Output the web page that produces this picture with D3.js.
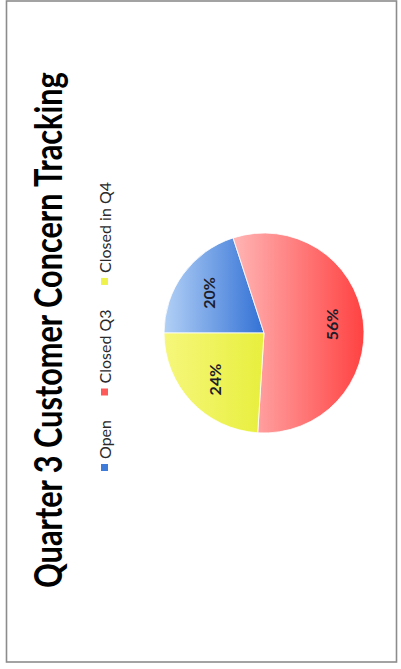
<!DOCTYPE html>
<html>
<head>
<meta charset="utf-8">
<script src="https://cdn.jsdelivr.net/npm/d3@7"></script>
<style>
  html, body { margin: 0; padding: 0; background: #ffffff; }
  svg { display: block; }
</style>
</head>
<body>
<script>
// ---- data ----
const categories = ["Open", "Closed Q3", "Closed in Q4"];
const values = [20, 56, 24];
const labels = ["20%", "56%", "24%"];
const title = "Quarter 3 Customer Concern Tracking";

const W = 401, H = 669;
const svg = d3.select("body").append("svg").attr("width", W).attr("height", H);
svg.append("rect").attr("width", W).attr("height", H).attr("fill", "#ffffff");

// page frame
svg.append("rect").attr("x", 6.5).attr("y", 1).attr("width", 390).attr("height", 661)
  .attr("fill", "none").attr("stroke", "#8c8c8c").attr("stroke-width", 1.6);

const defs = svg.append("defs");
const cx = 264, cy = 333, r = 100;
const gradStops = [
  { id: "gOpen",   x1: 163, x2: 262, c0: "#b3d1f6", c1: "#3573d6" },
  { id: "gClosed", x1: 225, x2: 366, c0: "#ffbcbc", c1: "#ff4040" },
  { id: "gQ4",     x1: 163, x2: 262, c0: "#f6f77c", c1: "#e8ef3e" }
];
gradStops.forEach(g => {
  const lg = defs.append("linearGradient").attr("id", g.id)
    .attr("gradientUnits", "userSpaceOnUse")
    .attr("x1", g.x1 - cx).attr("x2", g.x2 - cx).attr("y1", 0).attr("y2", 0);
  lg.append("stop").attr("offset", 0).attr("stop-color", g.c0);
  lg.append("stop").attr("offset", 1).attr("stop-color", g.c1);
});
const fillScale = d3.scaleOrdinal().domain(categories).range(gradStops.map(g => `url(#${g.id})`));
const swatch = d3.scaleOrdinal().domain(categories).range(["#3f7bd8", "#ff5a5a", "#eef24a"]);

// ---- pie (whole chart is rotated 90° counter-clockwise) ----
const pie = d3.pie().sort(null).value(d => d.v)
  .startAngle(-Math.PI / 2).endAngle(3 * Math.PI / 2);
const data = categories.map((c, i) => ({ c, v: values[i], label: labels[i] }));
const arcs = pie(data);
const arc = d3.arc().innerRadius(0).outerRadius(r);
const labelArc = d3.arc().innerRadius(r * 0.68).outerRadius(r * 0.68);

const g = svg.append("g").attr("transform", `translate(${cx},${cy})`);
g.selectAll("path").data(arcs).enter().append("path")
  .attr("d", arc)
  .attr("fill", d => fillScale(d.data.c))
  .attr("stroke", "#ffffff").attr("stroke-width", 0.8);

g.selectAll("text.pct").data(arcs).enter().append("text")
  .attr("class", "pct")
  .attr("transform", d => {
    const [x, y] = labelArc.centroid(d);
    return `translate(${x},${y}) rotate(-90)`;
  })
  .attr("text-anchor", "middle")
  .attr("dominant-baseline", "central")
  .attr("font-family", "Lato, 'Open Sans', sans-serif")
  .attr("font-weight", "bold")
  .attr("font-size", 16)
  .attr("fill", "#1d1d2b")
  .text(d => d.data.label);

// ---- title (condensed by scaling to the scanned length) ----
const titleLen = 516;
const tt = svg.append("text")
  .attr("font-family", "Lato, 'Open Sans', sans-serif")
  .attr("font-weight", "bold")
  .attr("font-size", 38)
  .attr("fill", "#000000")
  .text(title);
const natural = tt.node().getComputedTextLength();
tt.attr("transform", `translate(62,588) rotate(-90) scale(${titleLen / natural},1)`);

// ---- legend (laid out sequentially, bottom to top) ----
const leg = svg.append("g");
const legStart = 471, legEnd = 182, mk = 7, mkGap = 5;
const items = categories.map(c => {
  const t = leg.append("text")
    .attr("font-family", "Lato, 'Open Sans', sans-serif")
    .attr("font-size", 16)
    .attr("fill", "#2a2a2a")
    .text(c);
  return { c, t, w: t.node().getComputedTextLength() };
});
const used = d3.sum(items, d => d.w + mk + mkGap);
const gap = (legStart - legEnd - used) / (items.length - 1);
let pos = legStart;
items.forEach(d => {
  leg.append("rect").attr("x", 101).attr("y", pos - mk).attr("width", mk).attr("height", mk)
    .attr("fill", swatch(d.c));
  pos -= mk + mkGap;
  d.t.attr("transform", `translate(111,${pos}) rotate(-90)`);
  pos -= d.w + gap;
});
</script>
</body>
</html>
